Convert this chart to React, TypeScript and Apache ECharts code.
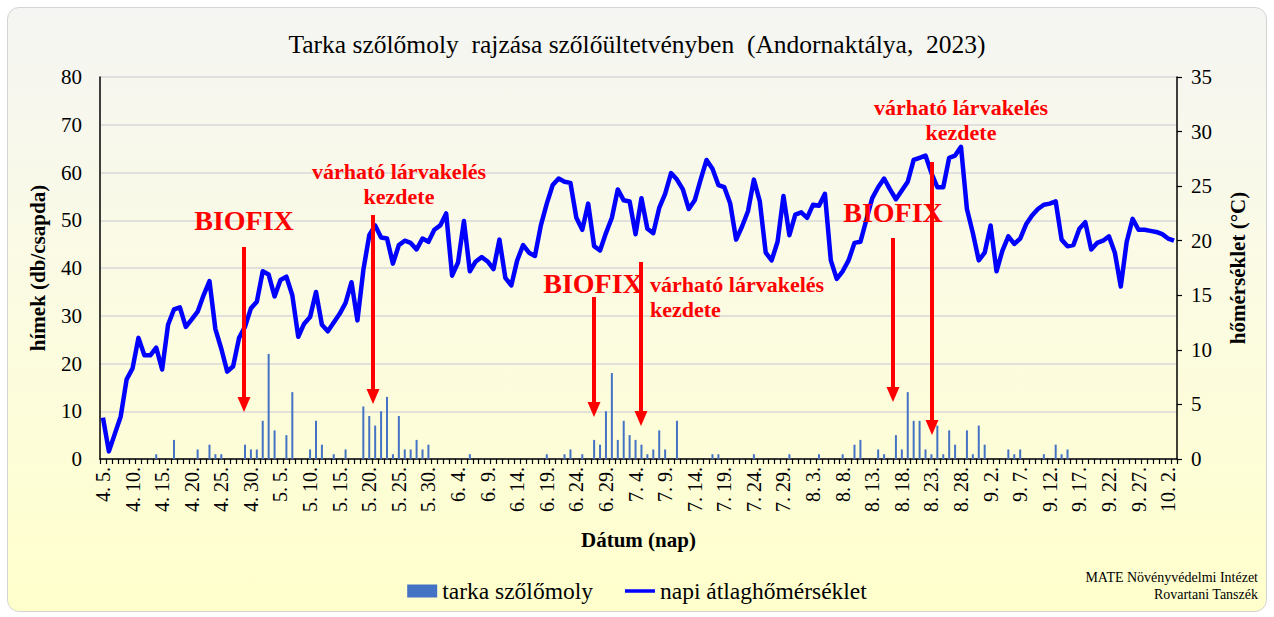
import React, { useEffect, useRef } from "react";
import * as echarts from "echarts";

// ---------- data ----------
const monthLengths: Record<number, number> = { 4: 30, 5: 31, 6: 30, 7: 31, 8: 31, 9: 30, 10: 31 };
const firstMonth = 4;
const firstDay = 5;
const dayCount = 182; // 4. 5. – 10. 3.

const categories: string[] = (() => {
  const out: string[] = [];
  let m = firstMonth;
  let d = firstDay;
  for (let i = 0; i < dayCount; i++) {
    out.push(`${m}. ${d}.`);
    d++;
    if (d > monthLengths[m]) {
      d = 1;
      m++;
    }
  }
  return out;
})();

// tarka szőlőmoly (hímek, db/csapda)
const mothCounts: number[] = [
  0, 0, 0, 0, 0, 0, 0, 0, 0, 1,
  0, 0, 4, 0, 0, 0, 2, 0, 3, 1,
  1, 0, 0, 0, 3, 2, 2, 8, 22, 6,
  0, 5, 14, 0, 0, 2, 8, 3, 0, 1,
  0, 2, 0, 0, 11, 9, 7, 10, 13, 1,
  9, 2, 2, 4, 2, 3, 0, 0, 0, 0,
  0, 0, 1, 0, 0, 0, 0, 0, 0, 0,
  0, 0, 0, 0, 0, 1, 0, 0, 1, 2,
  0, 1, 0, 4, 3, 10, 18, 4, 8, 5,
  4, 3, 1, 2, 6, 2, 0, 8, 0, 0,
  0, 0, 0, 1, 1, 0, 0, 0, 0, 0,
  1, 0, 0, 0, 0, 0, 1, 0, 0, 0,
  0, 1, 0, 0, 0, 1, 0, 3, 4, 0,
  0, 2, 1, 0, 5, 2, 14, 8, 8, 2,
  1, 7, 1, 6, 3, 0, 6, 1, 7, 3,
  0, 0, 0, 2, 1, 2, 0, 0, 0, 1,
  0, 3, 1, 2, 0, 0, 0, 0, 0, 0,
  0, 0, 0, 0, 0, 0, 0, 0, 0, 0,
  0, 0,
];

// napi átlaghőmérséklet (°C)
const temperature: number[] = [
  3.8, 0.7, 2.3, 3.9, 7.3, 8.3, 11.1, 9.5, 9.5, 10.2,
  8.2, 12.3, 13.7, 13.9, 12.1, 12.8, 13.5, 15.0, 16.3, 11.9,
  10.1, 8.0, 8.5, 11.1, 12.1, 13.8, 14.4, 17.2, 16.9, 14.9,
  16.4, 16.7, 15.0, 11.2, 12.4, 13.0, 15.3, 12.3, 11.7, 12.5,
  13.3, 14.3, 16.2, 12.7, 17.3, 20.5, 21.4, 20.3, 20.2, 17.9,
  19.6, 20.0, 19.8, 19.2, 20.2, 19.9, 21.0, 21.4, 22.5, 16.8,
  18.0, 21.8, 17.2, 18.1, 18.5, 18.1, 17.4, 20.1, 16.6, 15.9,
  18.2, 19.6, 18.9, 18.6, 21.4, 23.4, 25.1, 25.7, 25.4, 25.3,
  22.1, 21.0, 23.4, 19.5, 19.1, 20.7, 22.1, 24.7, 23.7, 23.6,
  20.6, 23.9, 21.1, 20.7, 23.0, 24.3, 26.2, 25.6, 24.7, 22.9,
  23.7, 25.6, 27.4, 26.6, 25.1, 24.9, 23.4, 20.1, 21.3, 22.7,
  25.6, 23.6, 18.9, 18.2, 19.9, 24.1, 20.5, 22.4, 22.6, 22.1,
  23.3, 23.2, 24.3, 18.2, 16.5, 17.2, 18.2, 19.8, 19.9, 21.9,
  23.9, 24.9, 25.7, 24.7, 23.8, 24.6, 25.4, 27.4, 27.6, 27.8,
  26.2, 24.9, 24.9, 27.6, 27.8, 28.6, 22.9, 20.7, 18.2, 18.9,
  21.4, 17.2, 19.1, 20.4, 19.7, 20.2, 21.5, 22.3, 22.9, 23.3,
  23.4, 23.6, 20.1, 19.5, 19.6, 21.1, 21.7, 19.2, 19.8, 20.0,
  20.4, 18.9, 15.8, 19.9, 22.0, 21.0, 21.0, 20.9, 20.8, 20.6,
  20.2, 20.0,
];

const leftTicks = { min: 0, max: 80, interval: 10 };
const rightTicks = { min: 0, max: 35, interval: 5 };

const titleText = "Tarka szőlőmoly  rajzása szőlőültetvényben  (Andornaktálya,  2023)";
const seriesNames = ["tarka szőlőmoly", "napi átlaghőmérséklet"];
const biofixLabel = "BIOFIX";
const larvaLabel = "várható lárvakelés\nkezdete";
const creditText = "MATE Növényvédelmi Intézet\nRovartani Tanszék";

// ---------- layout of annotations (pixels) ----------
type Ann = { text: string; tx: number; ty: number; align: "center" | "left"; big: boolean; ax: number; ay0: number; ay1: number };
const annotations: Ann[] = [
  { text: biofixLabel, tx: 244, ty: 220, align: "center", big: true, ax: 244, ay0: 247, ay1: 412 },
  { text: larvaLabel, tx: 399, ty: 184, align: "center", big: false, ax: 373, ay0: 215, ay1: 404 },
  { text: biofixLabel, tx: 593, ty: 283, align: "center", big: true, ax: 594, ay0: 297, ay1: 417 },
  { text: larvaLabel, tx: 650, ty: 297, align: "left", big: false, ax: 641, ay0: 262, ay1: 426 },
  { text: biofixLabel, tx: 893, ty: 212, align: "center", big: true, ax: 893, ay0: 238, ay1: 402 },
  { text: larvaLabel, tx: 961, ty: 120, align: "center", big: false, ax: 932, ay0: 162, ay1: 435 },
];

const SERIF = "Liberation Serif";
const RED = "#ff0000";
// thin horizontal bar for the line legend icon (extra degenerate points keep the full icon box)
const lineIcon = "path://M0,0L0.001,0M0,5.5L36,5.5L36,9.5L0,9.5ZM0,15L0.001,15";

function buildGraphics() {
  const els: any[] = [];
  annotations.forEach((a) => {
    els.push({
      type: "text",
      x: a.tx,
      y: a.ty,
      z: 100,
      silent: true,
      style: {
        text: a.text,
        fontFamily: SERIF,
        fontSize: a.big ? 28 : 22,
        fontWeight: "bold",
        fill: RED,
        align: a.align,
        textAlign: a.align,
        verticalAlign: "middle",
        textVerticalAlign: "middle",
        lineHeight: 25,
      },
    });
    els.push({
      type: "line",
      z: 100,
      silent: true,
      shape: { x1: a.ax, y1: a.ay0, x2: a.ax, y2: a.ay1 - 12 },
      style: { stroke: RED, lineWidth: 4 },
    });
    els.push({
      type: "polygon",
      z: 100,
      silent: true,
      shape: { points: [[a.ax - 6.5, a.ay1 - 15], [a.ax + 6.5, a.ay1 - 15], [a.ax, a.ay1]] },
      style: { fill: RED },
    });
  });
  els.push({
    type: "text",
    x: 1258,
    y: 569,
    z: 100,
    silent: true,
    style: {
      text: creditText,
      fontFamily: SERIF,
      fontSize: 14,
      fill: "#000",
      align: "right",
      textAlign: "right",
      verticalAlign: "top",
      textVerticalAlign: "top",
      lineHeight: 17,
    },
  });
  return els;
}

export default function App() {
  const ref = useRef<HTMLDivElement>(null);
  useEffect(() => {
    if (!ref.current) return;
    const chart = echarts.init(ref.current, undefined, { renderer: "svg" });
    chart.setOption({
      animation: false,
      backgroundColor: "transparent",
      textStyle: { fontFamily: SERIF },
      title: {
        text: titleText,
        left: "center",
        top: 26,
        textStyle: { fontFamily: SERIF, fontSize: 25.5, fontWeight: "normal", color: "#000" },
      },
      legend: {
        bottom: 9,
        left: "center",
        itemGap: 32,
        itemWidth: 30,
        itemHeight: 13,
        textStyle: { fontFamily: SERIF, fontSize: 23.5, color: "#000" },
        data: [
          { name: seriesNames[0], icon: "rect" },
          { name: seriesNames[1], icon: lineIcon, itemStyle: { color: "#0000ff" } },
        ],
      },
      grid: { left: 100, right: 97, top: 77, bottom: 158, containLabel: false },
      xAxis: {
        type: "category",
        data: categories,
        boundaryGap: true,
        name: "Dátum (nap)",
        nameLocation: "middle",
        nameGap: 70,
        nameTextStyle: { fontFamily: SERIF, fontSize: 21, fontWeight: "bold", color: "#000" },
        axisLine: { lineStyle: { color: "#000", width: 1.5 } },
        axisTick: { show: true, interval: 0, length: 5, lineStyle: { color: "#000", width: 1.2 } },
        axisLabel: {
          interval: 4,
          rotate: 90,
          margin: 8,
          fontFamily: SERIF,
          fontSize: 20,
          color: "#000",
        },
        splitLine: { show: false },
      },
      yAxis: [
        {
          type: "value",
          min: leftTicks.min,
          max: leftTicks.max,
          interval: leftTicks.interval,
          name: "hímek (db/csapda)",
          nameLocation: "middle",
          nameRotate: 90,
          nameGap: 52,
          nameTextStyle: { fontFamily: SERIF, fontSize: 21, fontWeight: "bold", color: "#000" },
          axisLine: { show: true, lineStyle: { color: "#000", width: 1.5 } },
          axisTick: { show: false },
          axisLabel: { margin: 18, fontFamily: SERIF, fontSize: 21, color: "#000" },
          splitLine: { show: true, lineStyle: { color: "#d9d9d9", width: 1.5 } },
        },
        {
          type: "value",
          min: rightTicks.min,
          max: rightTicks.max,
          interval: rightTicks.interval,
          position: "right",
          name: "hőmérséklet (°C)",
          nameLocation: "middle",
          nameRotate: 90,
          nameGap: 50,
          nameTextStyle: { fontFamily: SERIF, fontSize: 21, fontWeight: "bold", color: "#000" },
          axisLine: { show: true, lineStyle: { color: "#000", width: 1.5 } },
          axisTick: { show: true, length: 5, lineStyle: { color: "#000", width: 1.2 } },
          axisLabel: { margin: 14, fontFamily: SERIF, fontSize: 21, color: "#000" },
          splitLine: { show: false },
        },
      ],
      series: [
        {
          name: seriesNames[0],
          type: "bar",
          yAxisIndex: 0,
          data: mothCounts,
          barWidth: 2,
          itemStyle: { color: "#4472c4" },
          z: 2,
        },
        {
          name: seriesNames[1],
          type: "line",
          yAxisIndex: 1,
          data: temperature,
          symbol: "none",
          lineStyle: { color: "#0000ff", width: 4.5, join: "round" },
          itemStyle: { color: "#0000ff" },
          z: 3,
        },
      ],
      graphic: buildGraphics(),
    });
    return () => chart.dispose();
  }, []);

  return (
    <div style={{ position: "fixed", left: 0, top: 0, width: 1274, height: 617, background: "#fff" }}>
      <div
        style={{
          position: "absolute",
          left: 7,
          top: 7,
          width: 1260,
          height: 605,
          borderRadius: 12,
          border: "1.5px solid #d4d4d4",
          background: "linear-gradient(to bottom, #f5f5f3 0%, #fbfbe4 45%, #ffffcc 100%)",
          boxSizing: "border-box",
        }}
      />
      <div ref={ref} style={{ position: "absolute", left: 0, top: 0, width: 1274, height: 617 }} />
    </div>
  );
}
